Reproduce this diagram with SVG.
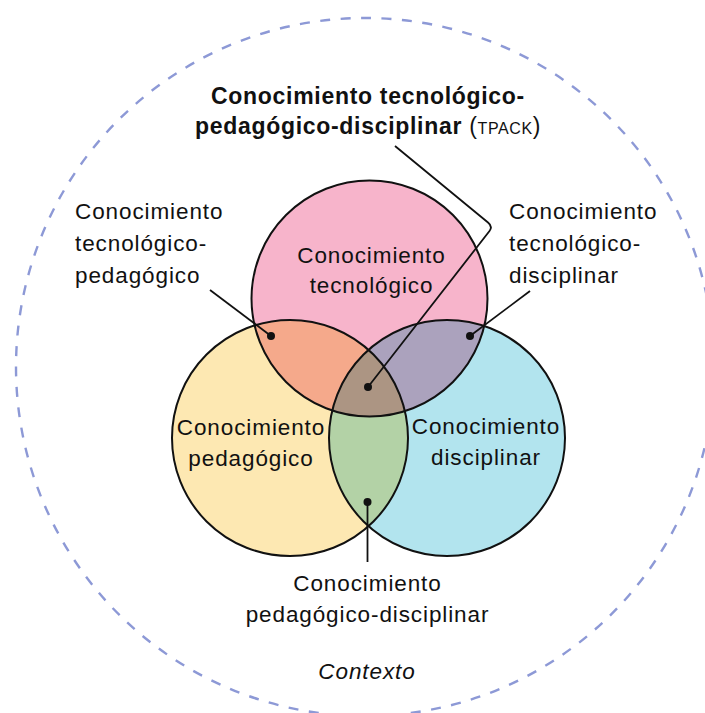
<svg xmlns="http://www.w3.org/2000/svg" width="705" height="713" viewBox="0 0 705 713">
<defs>
<style>
.t{font-family:"Liberation Sans",Arial,sans-serif;font-size:22.5px;letter-spacing:0.9px;fill:#111}
.m{text-anchor:middle}
.b{font-weight:bold;font-size:23px;letter-spacing:0.7px}
.ol{fill:none;stroke:#111;stroke-width:2}
.ld{fill:none;stroke:#111;stroke-width:1.8;stroke-linejoin:round}
.dot{fill:#111}
</style>
<clipPath id="cT"><circle cx="369.5" cy="298.5" r="118"/></clipPath>
<clipPath id="cP"><circle cx="290" cy="438" r="118"/></clipPath>
</defs>
<rect width="705" height="713" fill="#fff"/>
<g id="context">
<circle cx="365" cy="367" r="349" fill="none" stroke="#8D99D6" stroke-width="2.4" stroke-dasharray="10 10.5"/>
<text class="t m" x="367" y="679" font-style="italic">Contexto</text>
</g>
<g id="regions">
<circle cx="369.5" cy="298.5" r="118" fill="#F7B4CB"/>
<circle cx="290" cy="438" r="118" fill="#FDE8B2"/>
<circle cx="447" cy="438" r="118" fill="#B2E4EE"/>
<circle cx="290" cy="438" r="118" fill="#F5A98B" clip-path="url(#cT)"/>
<circle cx="447" cy="438" r="118" fill="#ABA2BD" clip-path="url(#cT)"/>
<circle cx="447" cy="438" r="118" fill="#B3D2A6" clip-path="url(#cP)"/>
<g clip-path="url(#cT)"><circle cx="447" cy="438" r="118" fill="#AC9583" clip-path="url(#cP)"/></g>
</g>
<g id="node-tecnologico">
<circle class="ol" cx="369.5" cy="298.5" r="118"/>
<text class="t m" x="371.5" y="262.5">Conocimiento</text>
<text class="t m" x="371.5" y="293">tecnológico</text>
</g>
<g id="node-pedagogico">
<circle class="ol" cx="290" cy="438" r="118"/>
<text class="t m" x="251" y="435">Conocimiento</text>
<text class="t m" x="251" y="466">pedagógico</text>
</g>
<g id="node-disciplinar">
<circle class="ol" cx="447" cy="438" r="118"/>
<text class="t m" x="486" y="433.5">Conocimiento</text>
<text class="t m" x="486" y="464.5">disciplinar</text>
</g>
<g id="connectors">
<path class="ld" d="M395,146 L488,222.5 Q493,226.5 489.5,231 L368,387"/>
<line class="ld" x1="210" y1="290" x2="271" y2="336"/>
<line class="ld" x1="530" y1="291" x2="470" y2="336"/>
<line class="ld" x1="367.5" y1="502" x2="367.5" y2="562"/>
<circle class="dot" cx="368" cy="387" r="4"/>
<circle class="dot" cx="271" cy="336" r="4"/>
<circle class="dot" cx="470" cy="336" r="4"/>
<circle class="dot" cx="367.5" cy="502" r="4"/>
</g>
<g id="label-tpack">
<text class="t b m" x="368" y="104">Conocimiento tecnológico-</text>
<text class="t b m" x="368" y="134">pedagógico-disciplinar<tspan font-weight="normal"> (</tspan><tspan font-weight="normal" font-size="16" letter-spacing="0.6">TPACK</tspan><tspan font-weight="normal">)</tspan></text>
</g>
<g id="label-tp">
<text class="t" x="75" y="219">Conocimiento</text>
<text class="t" x="75" y="251">tecnológico-</text>
<text class="t" x="75" y="282.5">pedagógico</text>
</g>
<g id="label-tc">
<text class="t" x="509" y="219">Conocimiento</text>
<text class="t" x="509" y="251">tecnológico-</text>
<text class="t" x="509" y="282.5">disciplinar</text>
</g>
<g id="label-pc">
<text class="t m" x="367.5" y="590.5">Conocimiento</text>
<text class="t m" x="367.5" y="621.5">pedagógico-disciplinar</text>
</g>
</svg>
